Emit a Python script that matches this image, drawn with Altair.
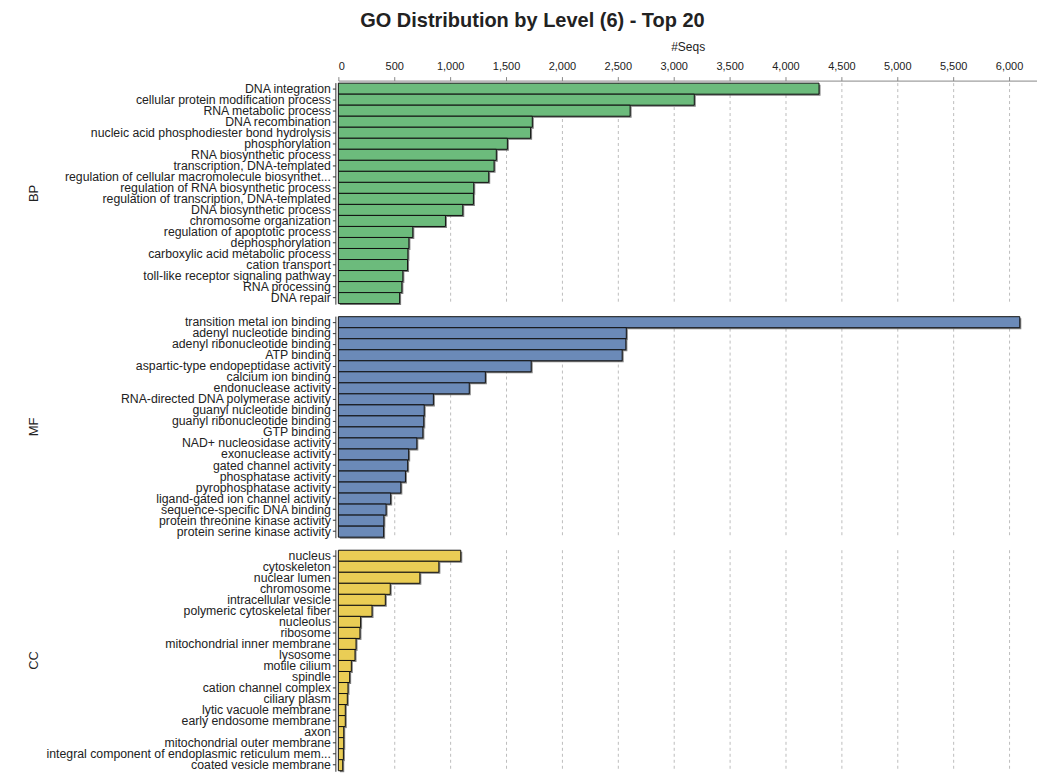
import altair as alt
import pandas as pd

groups = ["BP", "MF", "CC"]

bp_terms = [
    "DNA integration", "cellular protein modification process", "RNA metabolic process",
    "DNA recombination", "nucleic acid phosphodiester bond hydrolysis", "phosphorylation",
    "RNA biosynthetic process", "transcription, DNA-templated",
    "regulation of cellular macromolecule biosynthet...", "regulation of RNA biosynthetic process",
    "regulation of transcription, DNA-templated", "DNA biosynthetic process",
    "chromosome organization", "regulation of apoptotic process", "dephosphorylation",
    "carboxylic acid metabolic process", "cation transport",
    "toll-like receptor signaling pathway", "RNA processing", "DNA repair",
]
bp_values = [4300, 3184, 2610, 1735, 1720, 1512, 1413, 1393, 1345, 1211,
             1208, 1113, 958, 666, 631, 622, 619, 577, 568, 548]

mf_terms = [
    "transition metal ion binding", "adenyl nucleotide binding", "adenyl ribonucleotide binding",
    "ATP binding", "aspartic-type endopeptidase activity", "calcium ion binding",
    "endonuclease activity", "RNA-directed DNA polymerase activity", "guanyl nucleotide binding",
    "guanyl ribonucleotide binding", "GTP binding", "NAD+ nucleosidase activity",
    "exonuclease activity", "gated channel activity", "phosphatase activity",
    "pyrophosphatase activity", "ligand-gated ion channel activity",
    "sequence-specific DNA binding", "protein threonine kinase activity",
    "protein serine kinase activity",
]
mf_values = [6096, 2576, 2572, 2539, 1725, 1315, 1171, 850, 768, 764,
             756, 702, 629, 620, 600, 559, 468, 427, 407, 405]

cc_terms = [
    "nucleus", "cytoskeleton", "nuclear lumen", "chromosome", "intracellular vesicle",
    "polymeric cytoskeletal fiber", "nucleolus", "ribosome", "mitochondrial inner membrane",
    "lysosome", "motile cilium", "spindle", "cation channel complex", "ciliary plasm",
    "lytic vacuole membrane", "early endosome membrane", "axon",
    "mitochondrial outer membrane", "integral component of endoplasmic reticulum mem...",
    "coated vesicle membrane",
]
cc_values = [1095, 899, 729, 464, 420, 301, 199, 193, 158, 149,
             116, 101, 86, 80, 62, 62, 48, 48, 45, 39]

group_colors = ["#6cbb7c", "#6b8ab8", "#eacd55"]

rows = []
for g, terms, vals in zip(groups, [bp_terms, mf_terms, cc_terms], [bp_values, mf_values, cc_values]):
    for i, (t, v) in enumerate(zip(terms, vals)):
        rows.append({"group": g, "term": t, "value": v, "order": i})
df = pd.DataFrame(rows)

FONT = "Liberation Sans"

x_enc = alt.X(
    "value:Q",
    title="#Seqs",
    scale=alt.Scale(domain=[0, 6250], nice=False),
    axis=alt.Axis(
        orient="top", format=",d", values=list(range(0, 6001, 500)),
        grid=True, gridDash=[3, 3], gridColor="#bdbdbd", gridWidth=1,
        domainColor="#888888", tickColor="#888888", tickSize=4, offset=1,
        labelFontSize=11, labelColor="#222222", labelFont=FONT,
        titleFontSize=12, titleFont=FONT, titleColor="#222222", titleFontWeight="normal",
        titlePadding=7, labelPadding=5,
    ),
)
y_enc = alt.Y(
    "term:N",
    sort=alt.EncodingSortField(field="order", order="ascending"),
    title=None,
    scale=alt.Scale(paddingInner=0, paddingOuter=0.05),
    axis=alt.Axis(
        labelFontSize=12.3, labelFont=FONT, labelColor="#222222", labelLimit=400,
        tickSize=3, tickColor="#333333", domainColor="#333333", offset=3,
        labelPadding=2, grid=False,
    ),
)

shadow = alt.Chart().mark_bar(color="#555555", opacity=0.75, xOffset=1.5, yOffset=1.5).encode(
    x=x_enc, y=y_enc
)
bars = alt.Chart().mark_bar(stroke="#111111", strokeWidth=1).encode(
    x=x_enc, y=y_enc,
    color=alt.Color("group:N", scale=alt.Scale(domain=groups, range=group_colors), legend=None),
)

chart = (
    alt.layer(shadow, bars, data=df)
    .properties(width=700, height=222)
    .facet(
        row=alt.Row(
            "group:N", sort=groups, title=None,
            header=alt.Header(labelOrient="left", labelAngle=-90, labelFontSize=13,
                              labelFont=FONT, labelColor="#222222", labelPadding=-2),
        ),
        spacing=10,
    )
    .resolve_scale(y="independent")
    .properties(
        title=alt.TitleParams("GO Distribution by Level (6) - Top 20", fontSize=20, font=FONT,
                              fontWeight="bold", color="#222222", anchor="middle", offset=10),
        padding={"left": 20, "right": 0, "top": 2, "bottom": 0},
    )
    .configure_view(stroke=None)
)

chart.save("out.html", embed_options={"renderer": "svg", "actions": False})
